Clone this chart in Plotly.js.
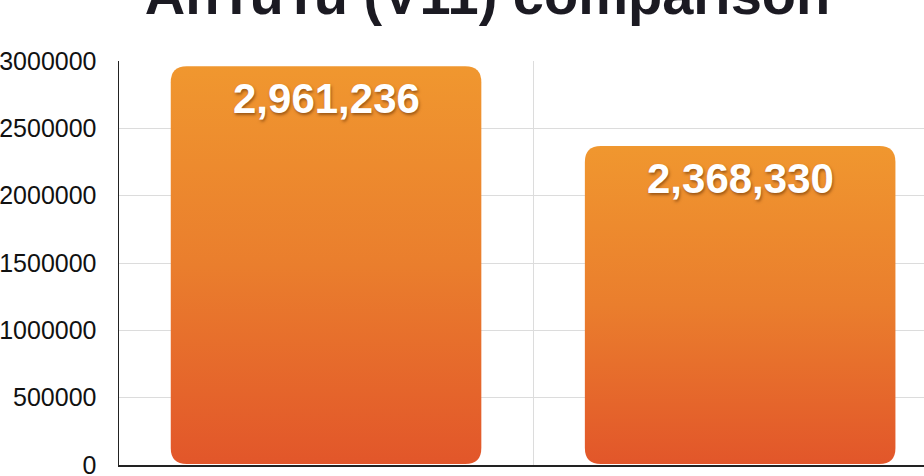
<!DOCTYPE html>
<html>
<head>
<meta charset="utf-8">
<script src="https://cdn.plot.ly/plotly-3.0.1.min.js"></script>
<style>
  html, body { margin: 0; padding: 0; background: #ffffff; overflow: hidden; }
  #chart { width: 924px; height: 476px; }
</style>
</head>
<body>
<div id="chart"></div>
<script>
// ---- data ----
const categories = ["Phone A", "Phone B"];
const scores = [2961236, 2368330];
const yTickValues = [0, 500000, 1000000, 1500000, 2000000, 2500000, 3000000];
const yTickLabels = ["0", "500000", "1000000", "1500000", "2000000", "2500000", "3000000"];
const chartTitle = "AnTuTu (V11) comparison";

const barTrace = {
  type: "bar",
  x: categories,
  y: scores,
  width: 0.75,
  marker: { color: "#EA7B2C", line: { width: 0 } },
  hoverinfo: "skip",
  showlegend: false
};

const labelAnnotations = categories.map((c, i) => ({
  x: c,
  y: scores[i],
  xref: "x",
  yref: "y",
  text: scores[i].toLocaleString("en-US"),
  showarrow: false,
  yanchor: "middle",
  yshift: -32,
  font: {
    family: "Liberation Sans, Arial, sans-serif",
    size: 42,
    weight: "bold",
    color: "#ffffff",
    shadow: "1px 2px 3px rgba(90,40,0,0.55)"
  }
}));

const layout = {
  width: 924,
  height: 476,
  margin: { l: 119, r: 0, t: 61, b: 11, pad: 0 },
  paper_bgcolor: "#ffffff",
  plot_bgcolor: "#ffffff",
  title: {
    text: chartTitle,
    x: 0.5276,
    xref: "container",
    xanchor: "center",
    y: 1 - 14 / 476,
    yref: "container",
    yanchor: "bottom",
    font: { family: "Liberation Sans, Arial, sans-serif", size: 56, weight: "bold", color: "#1b1a22" }
  },
  xaxis: {
    type: "category",
    range: [-0.5, 1.444],
    showline: true,
    linecolor: "#222222",
    linewidth: 1.5,
    showgrid: true,
    gridcolor: "#dcdcdc",
    gridwidth: 1,
    tickson: "boundaries",
    ticks: "",
    showticklabels: false,
    zeroline: false,
    fixedrange: true
  },
  yaxis: {
    range: [0, 3000000],
    tickmode: "array",
    tickvals: yTickValues,
    ticktext: yTickLabels,
    showline: true,
    linecolor: "#222222",
    linewidth: 1.5,
    showgrid: true,
    gridcolor: "#dcdcdc",
    gridwidth: 1,
    zeroline: false,
    ticks: "",
    ticklabelstandoff: 16,
    ticklabeloverflow: "allow",
    tickfont: { family: "Liberation Sans, Arial, sans-serif", size: 25, color: "#111111" },
    fixedrange: true
  },
  annotations: labelAnnotations,
  bargap: 0.25
};

function styleBars(gd) {
  const svg = gd.querySelector(".main-svg");
  if (!svg) return;
  const NS = "http://www.w3.org/2000/svg";
  if (!document.getElementById("barGrad")) {
    let defs = svg.querySelector("defs");
    if (!defs) { defs = document.createElementNS(NS, "defs"); svg.insertBefore(defs, svg.firstChild); }
    const grad = document.createElementNS(NS, "linearGradient");
    grad.setAttribute("id", "barGrad");
    grad.setAttribute("x1", "0"); grad.setAttribute("y1", "0");
    grad.setAttribute("x2", "0"); grad.setAttribute("y2", "1");
    const stops = [["0", "#F0972F"], ["0.5", "#EA7E2D"], ["1", "#E2562A"]];
    stops.forEach(([o, c]) => {
      const s = document.createElementNS(NS, "stop");
      s.setAttribute("offset", o); s.setAttribute("stop-color", c);
      grad.appendChild(s);
    });
    defs.appendChild(grad);
  }
  gd.querySelectorAll(".barlayer .point path").forEach(p => {
    const b = p.getBBox();
    const r = Math.min(16, b.width / 2, b.height / 2);
    const x0 = b.x, y0 = b.y, x1 = b.x + b.width, y1 = b.y + b.height - 1;
    const d = `M${x0 + r},${y0}H${x1 - r}Q${x1},${y0} ${x1},${y0 + r}V${y1 - r}Q${x1},${y1} ${x1 - r},${y1}H${x0 + r}Q${x0},${y1} ${x0},${y1 - r}V${y0 + r}Q${x0},${y0} ${x0 + r},${y0}Z`;
    p.setAttribute("d", d);
    p.style.fill = "url(#barGrad)";
    p.style.fillOpacity = "1";
  });
}

Plotly.newPlot("chart", [barTrace], layout, { displayModeBar: false, staticPlot: true }).then(gd => {
  styleBars(gd);
});
</script>
</body>
</html>
